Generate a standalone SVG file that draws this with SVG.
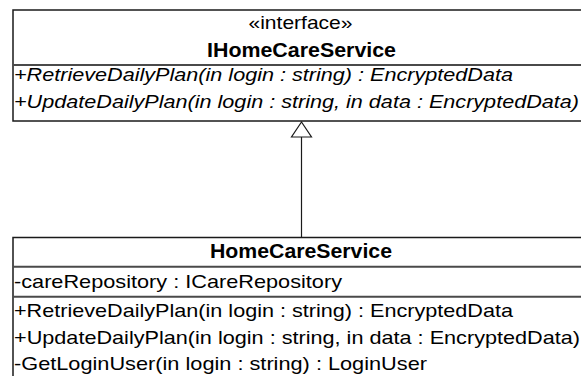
<svg xmlns="http://www.w3.org/2000/svg" width="581" height="376" viewBox="0 0 581 376">
  <style>
    .box { fill: #ffffff; stroke: #1a1a1a; stroke-width: 1.5; }
    .sep { stroke: #4a4a4a; stroke-width: 2; }
    .t { font-family: "Liberation Sans", Arial, sans-serif; font-size: 19px; fill: #000; }
    .b { font-weight: bold; font-size: 20.5px; }
    .i { font-style: italic; }
    .conn { stroke: #1a1a1a; stroke-width: 1.2; fill: none; }
    .head { fill: #ffffff; stroke: #1a1a1a; stroke-width: 1.2; }
  </style>
  <rect width="581" height="376" fill="#ffffff"/>

  <!-- interface IHomeCareService -->
  <g id="IHomeCareService">
    <rect class="box" x="13" y="10" width="580" height="111"/>
    <line class="sep" x1="13" y1="65" x2="593" y2="65"/>
    <text class="t" x="248.5" y="29" textLength="104" lengthAdjust="spacingAndGlyphs">«interface»</text>
    <text class="t b" x="207" y="57" textLength="189" lengthAdjust="spacingAndGlyphs">IHomeCareService</text>
    <text class="t i" x="14" y="81" textLength="499" lengthAdjust="spacingAndGlyphs">+RetrieveDailyPlan(in login : string) : EncryptedData</text>
    <text class="t i" x="14" y="108" textLength="565" lengthAdjust="spacingAndGlyphs">+UpdateDailyPlan(in login : string, in data : EncryptedData)</text>
  </g>

  <!-- class HomeCareService -->
  <g id="HomeCareService">
    <rect class="box" x="13" y="237.5" width="580" height="150"/>
    <line class="sep" x1="13" y1="266.7" x2="593" y2="266.7"/>
    <line class="sep" x1="13" y1="296.7" x2="593" y2="296.7"/>
    <text class="t b" x="210" y="258" textLength="182" lengthAdjust="spacingAndGlyphs">HomeCareService</text>
    <text class="t" x="14" y="288" textLength="328" lengthAdjust="spacingAndGlyphs">-careRepository : ICareRepository</text>
    <text class="t" x="14" y="317" textLength="499" lengthAdjust="spacingAndGlyphs">+RetrieveDailyPlan(in login : string) : EncryptedData</text>
    <text class="t" x="14" y="344" textLength="566" lengthAdjust="spacingAndGlyphs">+UpdateDailyPlan(in login : string, in data : EncryptedData)</text>
    <text class="t" x="14" y="370" textLength="413" lengthAdjust="spacingAndGlyphs">-GetLoginUser(in login : string) : LoginUser</text>
  </g>

  <!-- realization: HomeCareService implements IHomeCareService -->
  <g id="connectors">
    <line class="conn" x1="301.5" y1="137" x2="301.5" y2="237.5"/>
    <polygon class="head" points="301.5,122 291.5,137 311.5,137"/>
  </g>
</svg>
